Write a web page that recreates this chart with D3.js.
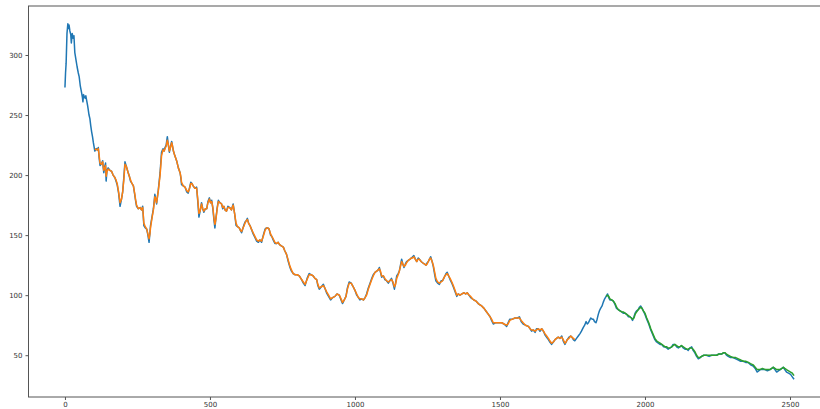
<!DOCTYPE html>
<html><head><meta charset="utf-8">
<script src="https://cdn.jsdelivr.net/npm/d3@7"></script>
<style>
html,body{margin:0;padding:0;background:#fff;overflow:hidden}
svg{display:block}
.tick text{font-family:"DejaVu Sans",sans-serif;font-size:7px;fill:#333}
.tick line{stroke:#555}
</style></head><body>
<svg id="c" width="820" height="409"></svg>
<script>
const xTicks=[0,500,1000,1500,2000,2500];
const yTicks=[50,100,150,200,250,300];

const actual=[[0,273],[2,285],[4,293],[7,318],[10,326],[12,322],[14,325],[17,320],[20,317],[22,310],[25,318],[28,314],[31,316],[34,302],[38,296],[42,290],[46,285],[49,282],[53,274],[57,269],[60,265],[62,261],[64,267],[67,265],[70,264],[72,266],[75,262],[78,258],[80,255],[83,250],[86,247],[89,241],[92,236],[95,232],[98,227],
[103,220],[108,222],[112,221],[115,223],[118,214],[121,208],[125,209],[130,212],[132,206],[134,202],[137,207],[140,210],[142,195],[145,204],[149,206],[155,204],[161,203],[166,200],[172,198],[176,195],[180,192],[185,185],[190,174],[195,180],[199,186],[203,198],[207,211],[212,207],[218,202],[222,199],[226,195],[231,193],[236,191],[241,183],[244,178],[247,174],[253,172],[259,173],[264,171],[268,174],[270,166],[272,158],[277,156],[282,155],[286,150],[290,144],[293,152],[295,158],[300,165],[305,172],[310,184],[313,180],[316,176],[322,188],[328,202],[333,219],[338,222],[342,220],[345,223],[349,225],[353,232],[357,224],[360,219],[364,224],[368,228],[371,224],[374,220],[379,216],[385,212],[391,206],[397,202],[400,197],[402,192],[408,191],[414,190],[420,186],[425,185],[430,190],[434,194],[438,193],[442,191],[448,189],[454,190],[458,178],[462,165],[466,170],[471,177],[475,172],[479,169],[484,172],[489,172],[493,178],[498,181],[502,177],[506,179],[510,172],[514,162],[517,156],[521,165],[525,173],[529,179],[534,177],[540,176],[544,172],[548,174],[552,171],[557,170],[562,174],[568,173],[574,171],[580,176],[585,168],[590,158],[595,157],[601,156],[605,154],[609,152],[614,156],[618,159],[621,161],[625,162],[629,164],[633,160],[638,158],[643,155],[649,151],[655,148],[661,145],[667,144],[672,146],[678,144],[684,150],[690,155],[695,156],[700,156],[704,155],[709,150],[713,149],[718,146],[724,143],[730,143],[735,144],[740,142],[746,141],[753,140],[758,137],[764,134],[770,128],[776,123],[781,120],[787,118],[794,117],[801,117],[808,116],[816,113],[822,110],[828,108],[835,114],[842,118],[849,117],[856,116],[862,114],[868,113],[872,108],[877,105],[884,107],[891,109],[896,106],[902,102],[909,99],[916,96],[923,98],[931,99],[938,101],[946,100],[952,96],[957,93],[963,96],[969,99],[974,106],[980,111],[987,110],[994,107],[1000,104],[1006,100],[1012,98],[1017,96],[1023,97],[1029,96],[1035,98],[1040,101],[1046,106],[1052,110],[1058,114],[1063,117],[1069,119],[1075,120],[1080,121],[1084,123],[1088,119],[1092,115],[1098,116],[1103,113],[1109,112],[1115,110],[1120,112],[1126,114],[1131,110],[1136,105],[1140,110],[1144,116],[1149,118],[1153,120],[1157,125],[1161,130],[1165,126],[1169,123],[1174,126],[1178,128],[1184,129],[1190,130],[1195,131],[1199,132],[1203,133],[1208,130],[1213,128],[1218,131],[1222,130],[1228,128],[1233,127],[1239,126],[1245,125],[1249,127],[1253,128],[1257,130],[1261,132],[1266,128],[1270,124],[1275,117],[1279,112],[1285,110],[1291,109],[1297,112],[1302,112],[1306,114],[1310,116],[1314,118],[1318,119],[1323,116],[1328,113],[1334,110],[1339,107],[1345,103],[1351,99],[1356,101],[1362,100],[1369,101],[1376,102],[1382,101],[1387,102],[1393,100],[1399,98],[1405,97],[1410,96],[1418,95],[1425,93],[1431,92],[1437,91],[1445,89],[1454,86],[1460,84],[1466,82],[1471,79],[1477,76],[1484,77],[1491,77],[1498,77],[1506,77],[1514,76],[1523,74],[1528,77],[1534,80],[1543,80],[1552,81],[1560,81],[1567,82],[1573,78],[1580,76],[1588,75],[1598,74],[1604,72],[1609,70],[1615,71],[1621,69],[1626,72],[1632,72],[1638,70],[1644,72],[1650,70],[1655,67],[1661,65],[1667,63],[1672,61],[1678,59],[1684,61],[1690,63],[1695,64],[1701,65],[1707,64],[1713,66],[1718,62],[1724,59],[1728,61],[1732,63],[1738,65],[1744,66],[1748,65],[1753,63],[1758,62],[1764,64],[1770,66],[1776,68],[1781,70],[1787,73],[1792,75],[1797,78],[1801,76],[1805,77],[1809,79],[1813,81],[1818,80],[1822,80],[1826,78],[1831,77],[1835,80],[1839,84],[1843,87],[1847,89],[1852,91],[1856,94],[1861,97],[1866,99],[1871,101],[1875,98],[1879,96],[1885,96],[1891,95],[1897,92],[1902,89],[1908,88],[1914,87],[1920,86],[1925,85],[1931,85],[1937,84],[1943,82],[1948,82],[1953,81],[1957,79],[1962,82],[1966,85],[1971,87],[1977,88],[1981,90],[1985,91],[1990,89],[1994,87],[2000,84],[2006,80],[2013,76],[2020,71],[2027,67],[2034,63],[2040,61],[2046,60],[2052,59],[2058,59],[2064,57],[2069,57],[2075,56],[2080,55],[2086,56],[2092,57],[2097,59],[2103,59],[2109,57],[2115,56],[2120,57],[2126,58],[2132,56],[2138,55],[2144,55],[2149,54],[2155,56],[2161,57],[2166,54],[2172,52],[2178,49],[2184,47],[2190,48],[2195,49],[2203,50],[2212,50],[2221,49],[2230,50],[2238,50],[2247,50],[2255,51],[2264,51],[2270,52],[2276,52],[2281,50],[2287,49],[2295,48],[2304,48],[2313,47],[2322,46],[2330,45],[2339,45],[2347,44],[2356,44],[2364,42],[2373,41],[2380,39],[2387,36],[2392,37],[2397,38],[2405,38],[2414,38],[2422,37],[2431,38],[2437,39],[2442,40],[2448,38],[2454,36],[2460,37],[2466,38],[2472,39],[2477,40],[2482,38],[2488,36],[2495,35],[2502,34],[2508,32],[2514,30]];

const trainPredict=[[103,222],[108,221],[112,221],[115,222],[118,216],[121,210],[125,209],[130,211],[132,207],[134,204],[137,206],[140,208],[142,199],[145,203],[149,205],[155,204],[161,203],[166,200],[172,198],[176,196],[180,193],[185,186],[190,177],[195,180],[199,186],[203,196],[207,209],[212,207],[218,202],[222,199],[226,196],[231,193],[236,191],[241,184],[244,179],[247,175],[253,172],[259,173],[264,171],[268,173],[270,167],[272,160],[277,157],[282,155],[286,151],[290,147],[293,151],[295,156],[300,164],[305,171],[310,182],[313,180],[316,177],[322,187],[328,200],[333,216],[338,221],[342,220],[345,222],[349,224],[353,229],[357,225],[360,220],[364,223],[368,227],[371,224],[374,220],[379,216],[385,212],[391,206],[397,202],[400,198],[402,194],[408,191],[414,190],[420,187],[425,186],[430,189],[434,193],[438,193],[442,191],[448,189],[454,189],[458,180],[462,168],[466,170],[471,176],[475,172],[479,170],[484,172],[489,172],[493,177],[498,180],[502,177],[506,178],[510,173],[514,164],[517,159],[521,164],[525,172],[529,178],[534,177],[540,176],[544,173],[548,174],[552,171],[557,170],[562,173],[568,173],[574,171],[580,175],[585,168],[590,160],[595,157],[601,156],[605,154],[609,153],[614,156],[618,158],[621,160],[625,162],[629,163],[633,160],[638,158],[643,155],[649,152],[655,149],[661,146],[667,145],[672,146],[678,145],[684,149],[690,154],[695,156],[700,156],[704,155],[709,151],[713,149],[718,147],[724,144],[730,143],[735,144],[740,142],[746,141],[753,140],[758,137],[764,134],[770,129],[776,124],[781,121],[787,118],[794,117],[801,117],[808,116],[816,113],[822,111],[828,109],[835,113],[842,117],[849,117],[856,116],[862,114],[868,113],[872,109],[877,106],[884,107],[891,108],[896,106],[902,103],[909,100],[916,97],[923,98],[931,99],[938,101],[946,100],[952,97],[957,94],[963,96],[969,99],[974,105],[980,110],[987,110],[994,107],[1000,104],[1006,101],[1012,98],[1017,97],[1023,97],[1029,96],[1035,98],[1040,100],[1046,105],[1052,109],[1058,113],[1063,116],[1069,119],[1075,120],[1080,121],[1084,122],[1088,120],[1092,116],[1098,116],[1103,114],[1109,112],[1115,111],[1120,112],[1126,113],[1131,111],[1136,107],[1140,109],[1144,114],[1149,117],[1153,120],[1157,124],[1161,128],[1165,126],[1169,124],[1174,125],[1178,127],[1184,129],[1190,130],[1195,131],[1199,131],[1203,132],[1208,130],[1213,128],[1218,130],[1222,130],[1228,128],[1233,127],[1239,126],[1245,125],[1249,126],[1253,128],[1257,130],[1261,131],[1266,128],[1270,125],[1275,119],[1279,114],[1285,111],[1291,110],[1297,111],[1302,112],[1306,114],[1310,116],[1314,117],[1318,118],[1323,116],[1328,114],[1334,111],[1339,108],[1345,104],[1351,100],[1356,101],[1362,100],[1369,101],[1376,102],[1382,101],[1387,102],[1393,100],[1399,99],[1405,97],[1410,96],[1418,95],[1425,93],[1431,92],[1437,91],[1445,89],[1454,86],[1460,84],[1466,82],[1471,80],[1477,77],[1484,77],[1491,77],[1498,77],[1506,77],[1514,76],[1523,75],[1528,76],[1534,79],[1543,80],[1552,81],[1560,81],[1567,81],[1573,79],[1580,77],[1588,75],[1598,74],[1604,72],[1609,71],[1615,71],[1621,70],[1626,71],[1632,72],[1638,71],[1644,72],[1650,70],[1655,68],[1661,66],[1667,64],[1672,62],[1678,60],[1684,61],[1690,63],[1695,64],[1701,65],[1707,64],[1713,65],[1718,63],[1724,60],[1728,61],[1732,63],[1738,64],[1744,66],[1748,65],[1753,64],[1758,63]];

const testPredict=[[1866,99],[1871,100],[1875,99],[1879,97],[1885,96],[1891,95],[1897,93],[1902,90],[1908,88],[1914,87],[1920,86],[1925,86],[1931,85],[1937,84],[1943,83],[1948,82],[1953,81],[1957,80],[1962,81],[1966,84],[1971,86],[1977,88],[1981,89],[1985,90],[1990,89],[1994,87],[2000,85],[2006,81],[2013,77],[2020,72],[2027,68],[2034,64],[2040,62],[2046,61],[2052,60],[2058,59],[2064,58],[2069,57],[2075,57],[2080,56],[2086,56],[2092,57],[2097,58],[2103,59],[2109,58],[2115,57],[2120,57],[2126,58],[2132,57],[2138,56],[2144,55],[2149,55],[2155,56],[2161,56],[2166,55],[2172,53],[2178,50],[2184,48],[2190,48],[2195,49],[2203,50],[2212,50],[2221,50],[2230,50],[2238,50],[2247,50],[2255,51],[2264,51],[2270,52],[2276,52],[2281,51],[2287,50],[2295,49],[2304,48],[2313,48],[2322,47],[2330,46],[2339,45],[2347,45],[2356,44],[2364,43],[2373,42],[2380,40],[2387,38],[2392,38],[2397,38],[2405,39],[2414,38],[2422,38],[2431,38],[2437,39],[2442,40],[2448,39],[2454,38],[2460,38],[2466,38],[2472,39],[2477,40],[2482,39],[2488,38],[2495,37],[2502,36],[2508,35],[2514,33]];

const colors=["#1f77b4","#ff7f0e","#2ca02c"];

const svg=d3.select("#c");
const L=28.5, R=830.5, T=6, B=397;
const xExt=d3.extent(actual,d=>d[0]);
const yExt=d3.extent(actual,d=>d[1]);
const xPad=(xExt[1]-xExt[0])*0.05, yPad=(yExt[1]-yExt[0])*0.05;
const x=d3.scaleLinear().domain([xExt[0]-xPad,xExt[1]+xPad]).range([L,R]);
const y=d3.scaleLinear().domain([yExt[0]-yPad,yExt[1]+yPad]).range([B,T]);

const line=d3.line().x(d=>x(d[0])).y(d=>y(d[1]));
[actual,trainPredict,testPredict].forEach((s,i)=>{
  svg.append("path").datum(s).attr("d",line).attr("fill","none")
    .attr("stroke",colors[i]).attr("stroke-width",1.5).attr("stroke-linejoin","round");
});

const gx=svg.append("g").attr("transform",`translate(0,${B})`)
  .call(d3.axisBottom(x).tickValues(xTicks).tickSize(3).tickPadding(2).tickFormat(d3.format("d")));
gx.select(".domain").remove();
const gy=svg.append("g").attr("transform",`translate(${L},0)`)
  .call(d3.axisLeft(y).tickValues(yTicks).tickSize(3).tickPadding(3).tickFormat(d3.format("d")));
gy.select(".domain").remove();

svg.append("rect").attr("x",L).attr("y",T).attr("width",R-L).attr("height",B-T)
  .attr("fill","none").attr("stroke","#555").attr("stroke-width",1);
</script>
</body></html>
